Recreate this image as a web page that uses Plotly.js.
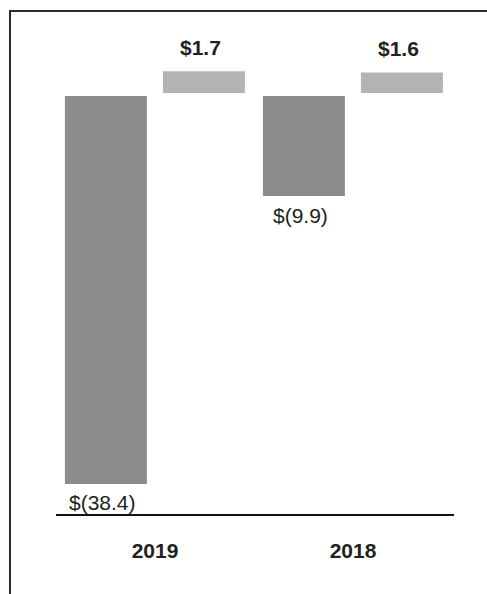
<!DOCTYPE html>
<html>
<head>
<meta charset="utf-8">
<script src="https://cdn.plot.ly/plotly-3.0.1.min.js"></script>
<style>
  html, body { margin: 0; padding: 0; background: #fff; }
  #wrap { position: relative; width: 487px; height: 594px; overflow: hidden; }
  #chart { position: absolute; left: 0; top: 0; width: 487px; height: 594px; }
  #frame { position: absolute; left: 9px; top: 10px; width: 490px; height: 600px;
           border-top: 2px solid #2b2b2b; border-left: 2px solid #2b2b2b; pointer-events: none; }
</style>
</head>
<body>
<div id="wrap">
  <div id="chart"></div>
  <div id="frame"></div>
</div>
<script>
// ---- data ----
const years = ['2019', '2018'];
const lossValues = [-38.4, -9.9];   // dark bars
const gainValues = [1.7, 1.6];      // light bars

// ---- style ----
const darkColor = '#8c8c8e';
const lightColor = '#b3b3b3';
const textColor = '#231f20';
const barWidth = 0.414;
const darkOffset = -0.455;
const lightOffset = 0.040;

function fmt(v) {
  return v < 0 ? '$(' + Math.abs(v).toFixed(1) + ')' : '$' + v.toFixed(1);
}

const traces = [
  {
    type: 'bar', x: years, y: lossValues, yaxis: 'y',
    width: barWidth, offset: darkOffset,
    marker: { color: darkColor }, hoverinfo: 'skip', showlegend: false
  },
  {
    type: 'bar', x: years, y: gainValues, yaxis: 'y2',
    width: barWidth, offset: lightOffset,
    marker: { color: lightColor }, hoverinfo: 'skip', showlegend: false
  }
];

const annotations = [];
years.forEach((yr, i) => {
  annotations.push({
    x: i + darkOffset + barWidth / 2, y: lossValues[i], xref: 'x', yref: 'y',
    text: fmt(lossValues[i]), showarrow: false, yanchor: 'middle', xanchor: 'center',
    yshift: -19, xshift: -3,
    font: { family: 'Liberation Sans, Arial, sans-serif', size: 21, color: textColor }
  });
  annotations.push({
    x: i + lightOffset + barWidth / 2, y: gainValues[i], xref: 'x', yref: 'y2',
    text: '<b>' + fmt(gainValues[i]) + '</b>', showarrow: false, yanchor: 'middle', xanchor: 'center',
    yshift: 24, xshift: -3,
    font: { family: 'Liberation Sans, Arial, sans-serif', size: 21, color: textColor }
  });
});

const layout = {
  width: 487, height: 594,
  margin: { l: 56, r: 33, t: 30, b: 80 },
  paper_bgcolor: 'rgba(0,0,0,0)', plot_bgcolor: 'rgba(0,0,0,0)',
  barmode: 'overlay',
  showlegend: false,
  xaxis: {
    type: 'category', range: [-0.5, 1.51], fixedrange: true,
    showline: true, linewidth: 2, linecolor: '#111',
    showgrid: false, zeroline: false,
    ticks: 'outside', ticklen: 17, tickcolor: 'rgba(0,0,0,0)',
    tickfont: { family: 'Liberation Sans, Arial, sans-serif', size: 21, color: textColor, weight: 'bold' }
  },
  yaxis: {
    range: [-41.37, 6.532], visible: false, showgrid: false, zeroline: false, fixedrange: true
  },
  yaxis2: {
    range: [-32.89, 4.922], overlaying: 'y', visible: false, showgrid: false, zeroline: false, fixedrange: true
  },
  annotations: annotations
};

Plotly.newPlot('chart', traces, layout, { displayModeBar: false, staticPlot: true });
</script>
</body>
</html>
